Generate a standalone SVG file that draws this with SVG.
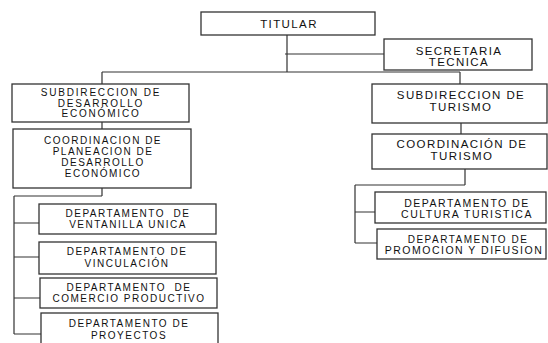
<svg xmlns="http://www.w3.org/2000/svg" width="548" height="343" viewBox="0 0 548 343">
<style>
.box{fill:#fff;stroke:#333;stroke-width:1.3}
.ln{stroke:#333;stroke-width:1.2;fill:none}
text{font-family:"Liberation Sans",Arial,sans-serif;fill:#111;text-anchor:middle}
.t12{font-size:11.5px;letter-spacing:1.4px}
.t10{font-size:10px;letter-spacing:1.5px}
.t105{font-size:10.5px;letter-spacing:1.5px}
.w18{letter-spacing:1.8px}
</style>
<rect width="548" height="343" fill="#fff"/>
<g id="connectors">
<path class="ln" d="M287 35V72M285 54H384M102 72H460M102 72V84M460 72V84M102 122V129M461 123V134M102 188V196M14 196H102M14 196V334M14 223H39M14 257H39M14 298H40M14 334H41M465 169V185M355 185H465M355 185V243M355 212H375M355 243H377"/>
</g>
<g id="titular">
<rect class="box" x="201" y="12" width="174" height="23"/>
<text class="t12" x="289" y="27.5">TITULAR</text>
</g>
<g id="secretaria">
<rect class="box" x="384" y="39" width="148" height="31"/>
<text class="t12" x="459" y="55">SECRETARIA</text>
<text class="t12" x="459" y="66">TECNICA</text>
</g>
<g id="subdir-desarrollo">
<rect class="box" x="12" y="84" width="177" height="38"/>
<text class="t10 w18" x="101" y="96">SUBDIRECCION DE</text>
<text class="t10 w18" x="101" y="106.5">DESARROLLO</text>
<text class="t10 w18" x="101" y="117">ECONÓMICO</text>
</g>
<g id="subdir-turismo">
<rect class="box" x="372" y="84" width="175" height="39"/>
<text class="t12" x="461" y="99">SUBDIRECCION DE</text>
<text class="t12" x="461" y="111">TURISMO</text>
</g>
<g id="coord-desarrollo">
<rect class="box" x="13" y="129" width="178" height="59"/>
<text class="t10" x="103" y="144">COORDINACION DE</text>
<text class="t10" x="103" y="155">PLANEACION DE</text>
<text class="t10" x="103" y="166">DESARROLLO</text>
<text class="t10" x="103" y="177">ECONÓMICO</text>
</g>
<g id="coord-turismo">
<rect class="box" x="372" y="134" width="175" height="35"/>
<text class="t12" x="462" y="148">COORDINACIÓN DE</text>
<text class="t12" x="462" y="159.5">TURISMO</text>
</g>
<g id="dep-ventanilla">
<rect class="box" x="39" y="204" width="177" height="30"/>
<text class="t10" x="128" y="217" xml:space="preserve">DEPARTAMENTO  DE</text>
<text class="t10" x="128" y="228">VENTANILLA UNICA</text>
</g>
<g id="dep-vinculacion">
<rect class="box" x="39" y="242" width="177" height="32"/>
<text class="t10" x="127" y="255">DEPARTAMENTO DE</text>
<text class="t10" x="127" y="267">VINCULACIÓN</text>
</g>
<g id="dep-comercio">
<rect class="box" x="40" y="278" width="177" height="30"/>
<text class="t10" x="129" y="291" xml:space="preserve">DEPARTAMENTO  DE</text>
<text class="t10" x="129" y="301.5">COMERCIO PRODUCTIVO</text>
</g>
<g id="dep-proyectos">
<rect class="box" x="41" y="313" width="177" height="34"/>
<text class="t10" x="129" y="327">DEPARTAMENTO DE</text>
<text class="t10" x="129" y="339">PROYECTOS</text>
</g>
<g id="dep-cultura">
<rect class="box" x="375" y="192" width="171" height="31"/>
<text class="t105" x="467" y="206.5">DEPARTAMENTO DE</text>
<text class="t105" x="467" y="218">CULTURA TURISTICA</text>
</g>
<g id="dep-promocion">
<rect class="box" x="377" y="229" width="169" height="30"/>
<text class="t10" x="468" y="242.5">DEPARTAMENTO DE</text>
<text class="t105" x="464" y="254">PROMOCION Y DIFUSION</text>
</g>
</svg>
